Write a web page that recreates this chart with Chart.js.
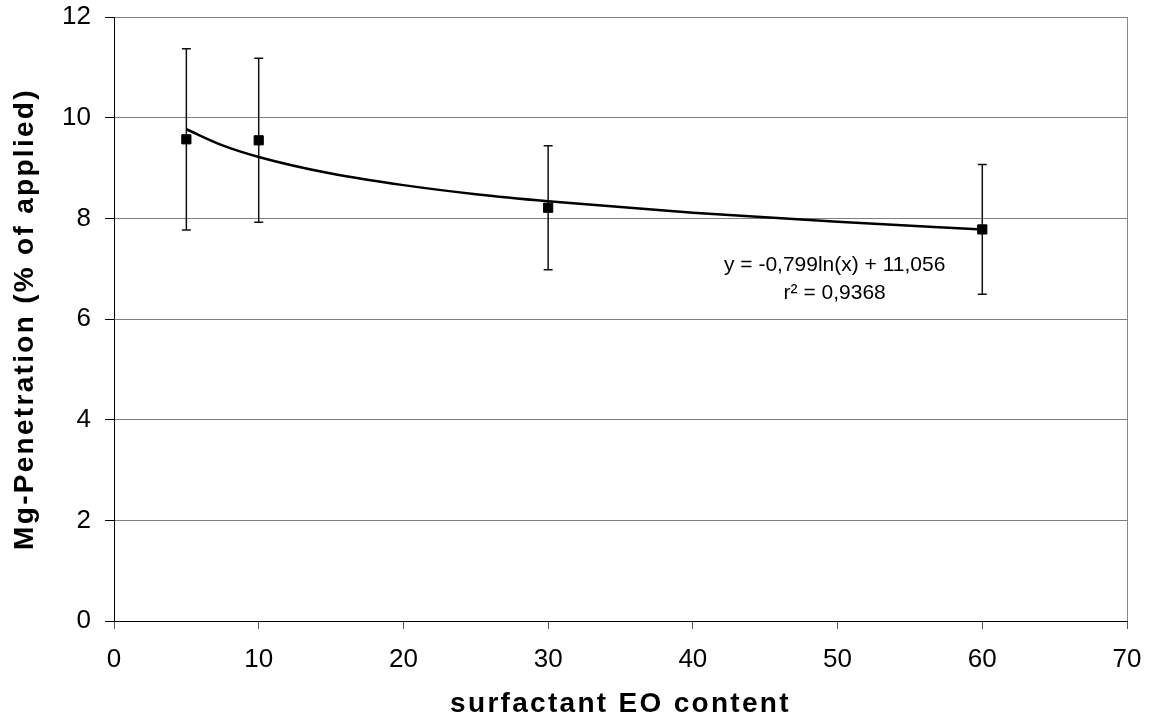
<!DOCTYPE html>
<html>
<head>
<meta charset="utf-8">
<script src="https://cdn.jsdelivr.net/npm/chart.js@4.4.1/dist/chart.umd.min.js"></script>
<style>
    html, body { margin: 0; padding: 0; background: #fff; }
</style>
</head>
<body>
<canvas id="chart" width="1150" height="722"></canvas>
<script>
// ================= DATA =================
const eoContent = [5, 10, 30, 60];
const penetration = [9.57, 9.55, 8.21, 7.78];
const errorSize = [1.80, 1.63, 1.23, 1.29];

// log trendline
const trendX = [5, 7.5, 10, 15, 20, 25, 30, 40, 50, 60];
const trendY = [9.77, 9.45, 9.22, 8.89, 8.66, 8.48, 8.34, 8.11, 7.93, 7.78];

const xTicks = [0, 10, 20, 30, 40, 50, 60, 70];
const yTicks = [0, 2, 4, 6, 8, 10, 12];

const trendLabel = ["y = -0,799ln(x) + 11,056", "r² = 0,9368"];

const FONT = "'Liberation Sans', Arial, Helvetica, sans-serif";

// ================= PLUGINS =================
const errorBars = {
    id: "errorBars",
    beforeDatasetsDraw(chart) {
        const { ctx, scales: { x, y } } = chart;
        ctx.save();
        ctx.strokeStyle = "#111";
        ctx.lineWidth = 1.5;
        eoContent.forEach((v, i) => {
            const px = x.getPixelForValue(v);
            const top = y.getPixelForValue(penetration[i] + errorSize[i]);
            const bot = y.getPixelForValue(penetration[i] - errorSize[i]);
            ctx.beginPath();
            ctx.moveTo(px, top); ctx.lineTo(px, bot);
            ctx.moveTo(px - 4.5, top); ctx.lineTo(px + 4.5, top);
            ctx.moveTo(px - 4.5, bot); ctx.lineTo(px + 4.5, bot);
            ctx.stroke();
        });
        ctx.restore();
    }
};

const extras = {
    id: "extras",
    beforeDraw(chart) {
        // wider letter spacing on the axis titles
        Object.values(chart.scales).forEach(s => {
            if (s._spaced) return;
            const orig = s.drawTitle;
            s.drawTitle = function () {
                const c = this.ctx;
                c.save();
                c.letterSpacing = "2.3px";
                orig.apply(this, arguments);
                c.restore();
            };
            s._spaced = true;
        });
    },
    afterDraw(chart) {
        const { ctx, chartArea: a, scales: { x, y } } = chart;
        ctx.save();
        // right border of plot area
        ctx.strokeStyle = "#888";
        ctx.lineWidth = 1;
        ctx.beginPath();
        ctx.moveTo(Math.round(a.right) + 0.5, a.top);
        ctx.lineTo(Math.round(a.right) + 0.5, a.bottom);
        ctx.stroke();

        // trendline equation
        ctx.fillStyle = "#000";
        ctx.font = "21px " + FONT;
        ctx.textAlign = "center";
        ctx.textBaseline = "middle";
        ctx.fillText(trendLabel[0], x.getPixelForValue(49.8), y.getPixelForValue(7.07));
        ctx.fillText(trendLabel[1], x.getPixelForValue(49.8), y.getPixelForValue(6.52));
        ctx.restore();
    }
};

// ================= CHART =================
new Chart(document.getElementById("chart"), {
    type: "scatter",
    data: {
        datasets: [
            {
                label: "Mg-Penetration",
                data: eoContent.map((v, i) => ({ x: v, y: penetration[i] })),
                pointStyle: "rect",
                pointRadius: 6.5,
                backgroundColor: "#000",
                borderColor: "#000",
                borderWidth: 1
            },
            {
                label: "trend",
                data: trendX.map((v, i) => ({ x: v, y: trendY[i] })),
                showLine: true,
                pointRadius: 0,
                borderColor: "#000",
                borderWidth: 2.5,
                cubicInterpolationMode: "monotone"
            }
        ]
    },
    options: {
        responsive: false,
        devicePixelRatio: 1,
        animation: false,
        layout: { padding: { top: 17, right: 23, left: 0, bottom: 0 } },
        plugins: { legend: { display: false }, tooltip: { enabled: false } },
        scales: {
            x: {
                type: "linear",
                min: 0, max: 70,
                afterBuildTicks: s => { s.ticks = xTicks.map(v => ({ value: v })); },
                afterFit: s => { s.height = 101; s.paddingLeft = 0; s.paddingRight = 0; },
                grid: { drawOnChartArea: false, drawTicks: true, tickLength: 8, tickColor: "#555" },
                border: { color: "#000", width: 1 },
                ticks: { color: "#000", padding: 15, font: { family: FONT, size: 26 } },
                title: {
                    display: true,
                    text: "surfactant EO content",
                    color: "#000",
                    padding: { top: 0, bottom: 1 },
                    font: { family: FONT, size: 28, weight: "bold" }
                }
            },
            y: {
                type: "linear",
                min: 0, max: 12,
                afterBuildTicks: s => { s.ticks = yTicks.map(v => ({ value: v })); },
                afterFit: s => { s.width = 114; s.paddingTop = 0; s.paddingBottom = 0; },
                grid: { color: "#808080", lineWidth: 1, tickLength: 9, tickColor: "#000" },
                border: { color: "#000", width: 1 },
                ticks: { color: "#000", padding: 14, font: { family: FONT, size: 26 } },
                title: {
                    display: true,
                    text: "Mg-Penetration (% of applied)",
                    color: "#000",
                    padding: { top: 8, bottom: 0 },
                    font: { family: FONT, size: 28, weight: "bold" }
                }
            }
        }
    },
    plugins: [errorBars, extras]
});
</script>
</body>
</html>
